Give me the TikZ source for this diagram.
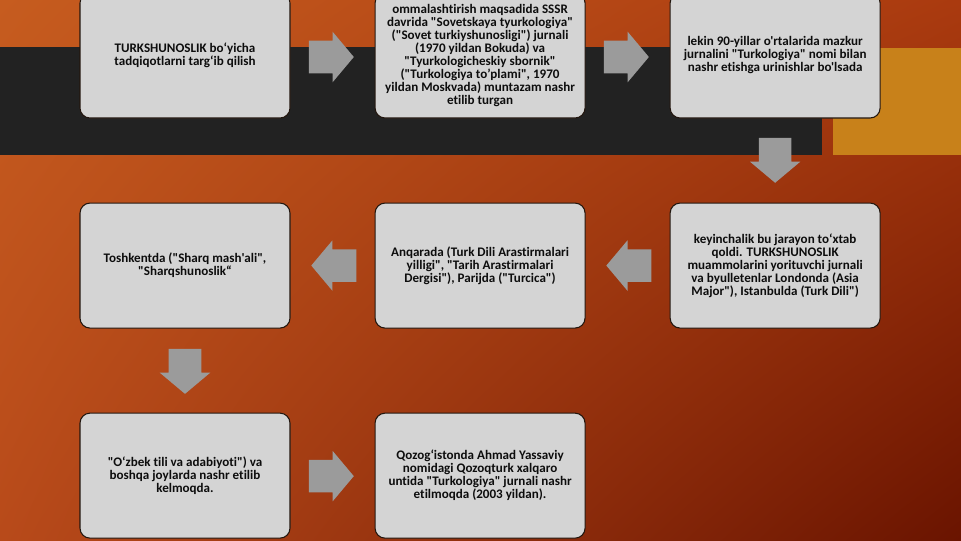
\documentclass[tikz,border=0pt]{standalone}
\usepackage{fontspec}
\newfontfamily\boxfont{Carlito}[Ligatures=NoCommon]
\usetikzlibrary{positioning,calc,shapes.arrows,shadings}

\definecolor{bgtl}{HTML}{C65C1F}
\definecolor{bgtr}{HTML}{AA3A0F}
\definecolor{bgbl}{HTML}{B84A1A}
\definecolor{bgbr}{HTML}{6A1400}
\definecolor{bandblack}{HTML}{222222}
\definecolor{bandorange}{HTML}{C8811A}
\definecolor{boxgray}{HTML}{D4D4D4}
\definecolor{boxline}{HTML}{22160E}
\definecolor{arrowgray}{HTML}{9B9B9B}

\tikzset{
  stepbox/.style={draw=boxline, fill=boxgray, line width=0.8pt,
    rounded corners=7.5pt, minimum width=157.5pt, minimum height=93.75pt,
    align=center, text=black!95,
    font=\boxfont\bfseries\fontsize{9.8}{9.75}\selectfont},
  blockarrow/.style={single arrow, fill=arrowgray, draw=none, anchor=tail,
    minimum height=33.75pt, inner xsep=0pt, inner ysep=12pt,
    single arrow head extend=6.75pt, single arrow tip angle=100},
}

\begin{document}
\begin{tikzpicture}[x=0.75pt, y=-0.75pt]
    \useasboundingbox (0,0) rectangle (961,540);

    % Background
    \shade[upper left=bgtl, upper right=bgtr, lower left=bgbl, lower right=bgbr]
      (0,0) rectangle (961,540);
    \fill[bandblack] (0,47) rectangle (822,155);
    \fill[bandorange] (833,48) rectangle (961,155);

    % Steps
    \node[stepbox] (s1) at (185,55.5) {TURKSHUNOSLIK bo‘yicha\\tadqiqotlarni targ‘ib qilish};
    \node[stepbox, right=63pt of s1] (s2) {ommalashtirish maqsadida SSSR\\davrida "Sovetskaya tyurkologiya"\\("Sovet turkiyshunosligi") jurnali\\(1970 yildan Bokuda) va\\"Tyurkologicheskiy sbornik"\\("Turkologiya to’plami", 1970\\yildan Moskvada) muntazam nashr\\etilib turgan};
    \node[stepbox, right=63pt of s2] (s3) {lekin 90-yillar o'rtalarida mazkur\\jurnalini "Turkologiya" nomi bilan\\nashr etishga urinishlar bo'lsada};
    \node[stepbox, below=63pt of s3] (s4) {keyinchalik bu jarayon to‘xtab\\qoldi. TURKSHUNOSLIK\\muammolarini yorituvchi jurnali\\va byulletenlar Londonda (Asia\\Major"), Istanbulda (Turk Dili")};
    \node[stepbox, left=63pt of s4] (s5) {Anqarada (Turk Dili Arastirmalari\\yilligi", "Tarih Arastirmalari\\Dergisi"), Parijda ("Turcica")};
    \node[stepbox, left=63pt of s5] (s6) {Toshkentda ("Sharq mash'ali",\\"Sharqshunoslik“};
    \node[stepbox, below=63pt of s6] (s7) {"O‘zbek tili va adabiyoti") va\\boshqa joylarda nashr etilib\\kelmoqda.};
    \node[stepbox, right=63pt of s7] (s8) {Qozog‘istonda Ahmad Yassaviy\\nomidagi Qozoqturk xalqaro\\untida "Turkologiya" jurnali nashr\\etilmoqda (2003 yildan).};

    % Arrows
    \node[blockarrow] (a12) at ($(s1.east)+(18,1.5)$) {};
    \node[blockarrow] (a23) at ($(s2.east)+(18,1.5)$) {};
    \node[blockarrow, rotate=-90] (a34) at ($(s3.south)+(0,19)$) {};
    \node[blockarrow, rotate=180] (a45) at ($(s4.west)+(-18,0)$) {};
    \node[blockarrow, rotate=180] (a56) at ($(s5.west)+(-18,0)$) {};
    \node[blockarrow, rotate=-90] (a67) at ($(s6.south)+(0,20)$) {};
    \node[blockarrow] (a78) at ($(s7.east)+(18,0.5)$) {};
\end{tikzpicture}
\end{document}
